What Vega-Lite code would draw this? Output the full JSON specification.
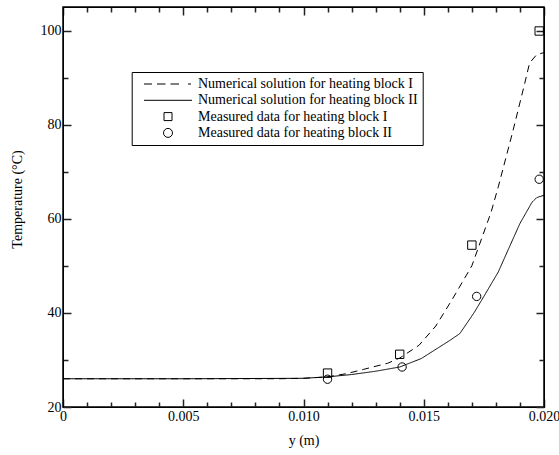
{
  "$schema": "https://vega.github.io/schema/vega-lite/v6.json",
  "width": 481,
  "height": 400,
  "autosize": {"type": "none"},
  "padding": {"left": 63, "top": 7, "right": 15, "bottom": 48},
  "config": {
    "font": "Liberation Serif",
    "view": {"stroke": "black", "strokeWidth": 1.5},
    "axis": {
      "grid": false,
      "domainColor": "black",
      "domainWidth": 1,
      "labelColor": "black",
      "titleColor": "black",
      "labelFont": "Liberation Serif",
      "titleFont": "Liberation Serif",
      "labelFontSize": 14,
      "titleFontSize": 14,
      "titleFontWeight": "normal"
    }
  },
  "datasets": {
    "lines": [
      {"x": 0, "y": 26, "s": "I"},
      {"x": 0.005, "y": 26, "s": "I"},
      {"x": 0.009, "y": 26, "s": "I"},
      {"x": 0.01, "y": 26.1, "s": "I"},
      {"x": 0.011, "y": 26.4, "s": "I"},
      {"x": 0.0118, "y": 27.1, "s": "I"},
      {"x": 0.0125, "y": 28.0, "s": "I"},
      {"x": 0.0135, "y": 29.3, "s": "I"},
      {"x": 0.014, "y": 30.4, "s": "I"},
      {"x": 0.0148, "y": 33.1, "s": "I"},
      {"x": 0.0155, "y": 37.2, "s": "I"},
      {"x": 0.0162, "y": 43, "s": "I"},
      {"x": 0.017, "y": 50, "s": "I"},
      {"x": 0.0178, "y": 61.4, "s": "I"},
      {"x": 0.0181, "y": 66.8, "s": "I"},
      {"x": 0.0187, "y": 78.5, "s": "I"},
      {"x": 0.0192, "y": 88.8, "s": "I"},
      {"x": 0.0194, "y": 93.1, "s": "I"},
      {"x": 0.0197, "y": 94.9, "s": "I"},
      {"x": 0.02, "y": 95.3, "s": "I"},
      {"x": 0, "y": 26, "s": "II"},
      {"x": 0.005, "y": 26, "s": "II"},
      {"x": 0.01, "y": 26.1, "s": "II"},
      {"x": 0.011, "y": 26.4, "s": "II"},
      {"x": 0.012, "y": 26.9, "s": "II"},
      {"x": 0.013, "y": 27.6, "s": "II"},
      {"x": 0.014, "y": 28.5, "s": "II"},
      {"x": 0.0149, "y": 30.3, "s": "II"},
      {"x": 0.0161, "y": 34.2, "s": "II"},
      {"x": 0.0165, "y": 35.6, "s": "II"},
      {"x": 0.0171, "y": 40.1, "s": "II"},
      {"x": 0.0175, "y": 43.5, "s": "II"},
      {"x": 0.0181, "y": 48.7, "s": "II"},
      {"x": 0.0185, "y": 53.3, "s": "II"},
      {"x": 0.019, "y": 59, "s": "II"},
      {"x": 0.0195, "y": 63.5, "s": "II"},
      {"x": 0.0197, "y": 64.5, "s": "II"},
      {"x": 0.02, "y": 65, "s": "II"}
    ],
    "meas": [
      {"x": 0.011, "y": 27.2, "s": "I"},
      {"x": 0.014, "y": 31.2, "s": "I"},
      {"x": 0.017, "y": 54.4, "s": "I"},
      {"x": 0.0198, "y": 99.9, "s": "I"},
      {"x": 0.011, "y": 25.9, "s": "II"},
      {"x": 0.0141, "y": 28.5, "s": "II"},
      {"x": 0.0172, "y": 43.5, "s": "II"},
      {"x": 0.0198, "y": 68.4, "s": "II"}
    ],
    "leg": [
      {"x": 0.01, "y": 50, "name": "Numerical solution for heating block I"},
      {"x": 0.01, "y": 50, "name": "Numerical solution for heating block II"},
      {"x": 0.01, "y": 50, "name": "Measured data for heating block I"},
      {"x": 0.01, "y": 50, "name": "Measured data for heating block II"}
    ]
  },
  "layer": [
    {
      "data": {"name": "lines"},
      "mark": {"type": "line", "color": "black", "strokeWidth": 1, "clip": true},
      "encoding": {
        "x": {
          "field": "x", "type": "quantitative",
          "scale": {"domain": [0, 0.02], "nice": false, "zero": false},
          "axis": {
            "orient": "bottom",
            "values": [0, 0.005, 0.01, 0.015, 0.02],
            "tickSize": -8,
            "tickColor": "#222222",
            "tickWidth": 1.5,
            "labelPadding": 10,
            "labelExpr": "datum.value == 0 ? '0' : format(datum.value, '.3f')",
            "labelFlush": false,
            "title": "y (m)",
            "titlePadding": 10
          }
        },
        "y": {
          "field": "y", "type": "quantitative",
          "scale": {"domain": [20, 105], "nice": false, "zero": false},
          "axis": {
            "orient": "left",
            "values": [20, 40, 60, 80, 100],
            "tickSize": -8,
            "tickColor": "#222222",
            "tickWidth": 1.5,
            "labelPadding": 10,
            "format": "d",
            "title": "Temperature (°C)",
            "titlePadding": 16,
            "titleY": 192
          }
        },
        "strokeDash": {
          "field": "s", "type": "nominal",
          "scale": {"domain": ["I", "II"], "range": [[7, 5], [1, 0]]},
          "legend": null
        }
      }
    },
    {
      "data": {"name": "meas"},
      "mark": {"type": "point", "filled": false, "color": "black", "strokeWidth": 1, "size": 70, "opacity": 1},
      "encoding": {
        "x": {
          "field": "x", "type": "quantitative",
          "scale": {"domain": [0, 0.02], "nice": false, "zero": false},
          "axis": {"orient": "top", "values": [0, 0.005, 0.01, 0.015, 0.02], "tickSize": -8, "tickColor": "#222222", "tickWidth": 1.5, "labels": false, "title": null}
        },
        "y": {
          "field": "y", "type": "quantitative",
          "scale": {"domain": [20, 105], "nice": false, "zero": false},
          "axis": {"orient": "right", "values": [20, 40, 60, 80, 100], "tickSize": -8, "tickColor": "#222222", "tickWidth": 1.5, "labels": false, "title": null}
        },
        "shape": {
          "field": "s", "type": "nominal",
          "scale": {"domain": ["I", "II"], "range": ["square", "circle"]},
          "legend": null
        }
      }
    },
    {
      "data": {"name": "leg"},
      "mark": {"type": "point", "filled": false, "color": "black", "opacity": 0},
      "encoding": {
        "x": {
          "field": "x", "type": "quantitative",
          "scale": {"domain": [0, 0.02], "nice": false, "zero": false},
          "axis": {"orient": "bottom", "values": [0.001, 0.002, 0.003, 0.004, 0.006, 0.007, 0.008, 0.009, 0.011, 0.012, 0.013, 0.014, 0.016, 0.017, 0.018, 0.019], "tickSize": -5, "tickColor": "#222222", "tickWidth": 1.5, "labels": false, "title": null}
        },
        "y": {
          "field": "y", "type": "quantitative",
          "scale": {"domain": [20, 105], "nice": false, "zero": false},
          "axis": {"orient": "left", "values": [30, 50, 70, 90], "tickSize": -5, "tickColor": "#222222", "tickWidth": 1.5, "labels": false, "title": null}
        },
        "shape": {
          "field": "name", "type": "nominal",
          "scale": {
            "domain": [
              "Numerical solution for heating block I",
              "Numerical solution for heating block II",
              "Measured data for heating block I",
              "Measured data for heating block II"
            ],
            "range": [
              "M0.06,0H1.66M2.66,0H4.36M5.36,0H7.06M8.86,0H9.46",
              "M0.06,0H9.66",
              "M4.06,-0.8H5.66V0.8H4.06Z",
              "M3.96,0A0.9,0.9 0 1,0 5.76,0A0.9,0.9 0 1,0 3.96,0Z"
            ]
          },
          "legend": {
            "orient": "none",
            "legendX": 68.7,
            "legendY": 65,
            "title": null,
            "labelFont": "Liberation Serif",
            "labelFontSize": 14,
            "labelColor": "black",
            "labelLimit": 0,
            "labelOffset": 47.3,
            "strokeColor": "black",
            "fillColor": "white",
            "padding": 5,
            "rowPadding": 2.3,
            "symbolSize": 100,
            "symbolStrokeColor": "black",
            "symbolFillColor": "transparent",
            "symbolStrokeWidth": 1,
            "symbolOpacity": 1
          }
        }
      }
    },
    {
      "data": {"name": "leg"},
      "mark": {"type": "point", "opacity": 0},
      "encoding": {
        "x": {
          "field": "x", "type": "quantitative",
          "scale": {"domain": [0, 0.02], "nice": false, "zero": false},
          "axis": {"orient": "top", "values": [0.001, 0.002, 0.003, 0.004, 0.006, 0.007, 0.008, 0.009, 0.011, 0.012, 0.013, 0.014, 0.016, 0.017, 0.018, 0.019], "tickSize": -5, "tickColor": "#222222", "tickWidth": 1.5, "labels": false, "title": null}
        },
        "y": {
          "field": "y", "type": "quantitative",
          "scale": {"domain": [20, 105], "nice": false, "zero": false},
          "axis": {"orient": "right", "values": [30, 50, 70, 90], "tickSize": -5, "tickColor": "#222222", "tickWidth": 1.5, "labels": false, "title": null}
        }
      }
    }
  ],
  "resolve": {
    "axis": {"x": "independent", "y": "independent"},
    "scale": {"shape": "independent", "strokeDash": "independent"}
  }
}
